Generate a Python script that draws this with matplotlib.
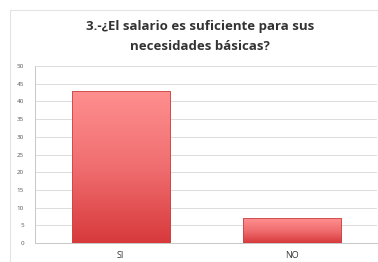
import numpy as np
import matplotlib.pyplot as plt
from matplotlib.colors import LinearSegmentedColormap
from matplotlib.patches import Rectangle

categories = ['SI', 'NO']
values = [43, 7]
yticks = [0, 5, 10, 15, 20, 25, 30, 35, 40, 45, 50]

plt.rcParams['font.family'] = ['Open Sans', 'DejaVu Sans']

fig = plt.figure(figsize=(3.78, 2.62), dpi=100)
fig.patch.set_facecolor('white')
# marco del grafico (se sale por abajo y la derecha)
fig.add_artist(Rectangle((0.026, -0.02), 1.0, 0.982, transform=fig.transFigure,
                         fill=False, edgecolor='#e3e3e3', lw=0.8))

ax = fig.add_axes([0.093, 0.072, 0.905, 0.676])
x = np.arange(len(categories))
bars = ax.bar(x, values, width=0.573, color='none', edgecolor='#c94445', lw=0.6, zorder=3)

# degradado rosa -> rojo
cmap = LinearSegmentedColormap.from_list('rojo', ['#d83a3c', '#f06e70', '#ff8f8f'])
grad = np.linspace(0, 1, 100).reshape(-1, 1)
for b in bars:
    x0, y0 = b.get_x(), b.get_y()
    im = ax.imshow(grad, cmap=cmap, aspect='auto', origin='lower',
                   extent=[x0, x0 + b.get_width(), y0, y0 + b.get_height()], zorder=2)
    im.set_clip_path(b)

ax.set_xlim(-0.5, 1.5)
ax.set_ylim(0, 50)
ax.set_yticks(yticks)
ax.set_xticks(x)
ax.set_xticklabels(categories)
ax.tick_params(axis='y', labelsize=4.5, colors='#555555', length=0, pad=8)
ax.tick_params(axis='x', labelsize=6.5, colors='#333333', length=0, pad=5.5)
ax.grid(axis='y', color='#dcdcdc', lw=0.7, zorder=0)
for s in ['top', 'right']:
    ax.spines[s].set_visible(False)
ax.spines['left'].set_color('#c8c8c8')
ax.spines['bottom'].set_color('#c8c8c8')
ax.spines['left'].set_linewidth(0.7)
ax.spines['bottom'].set_linewidth(0.7)

fig.text(0.53, 0.86, '3.-¿El salario es suficiente para sus\nnecesidades básicas?',
         ha='center', va='center', fontsize=9.5, fontweight='bold', color='#333333',
         linespacing=1.65)

fig.savefig('out.png', dpi=100)
